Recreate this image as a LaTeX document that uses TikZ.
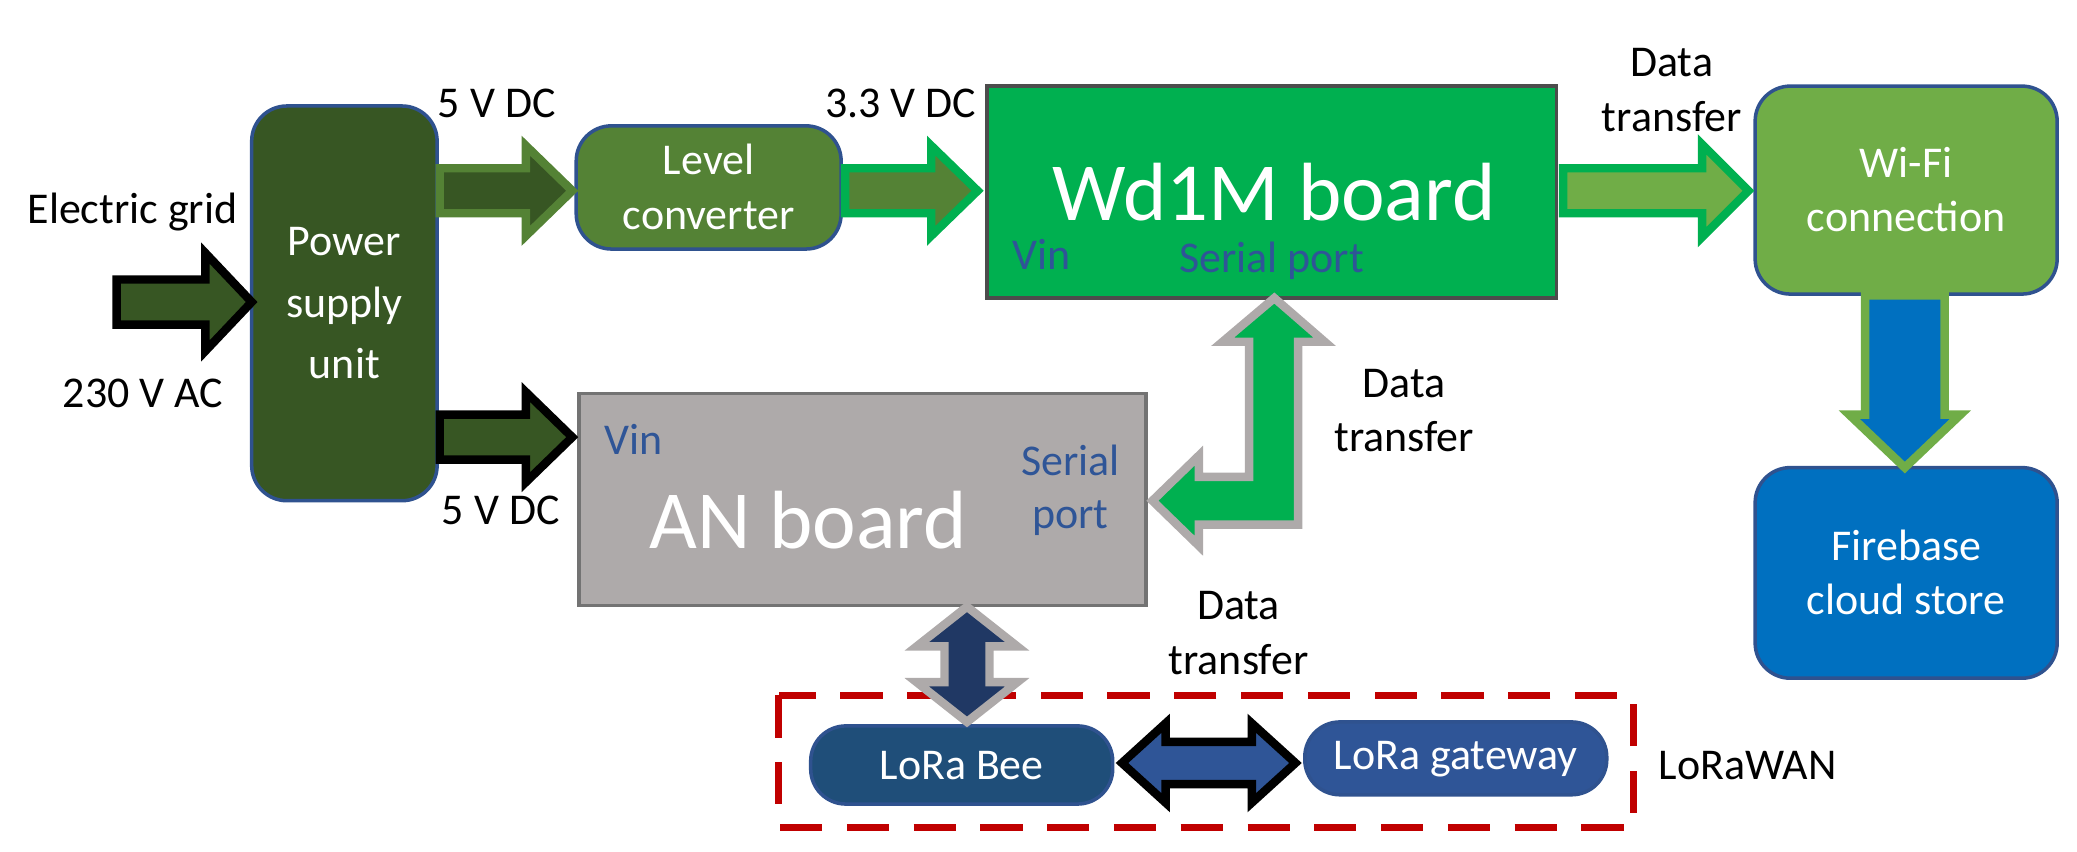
\documentclass[tikz,border=0pt]{standalone}
\usepackage{fontspec}
\setmainfont{Carlito}
\begin{document}
\begin{tikzpicture}[x=0.013246cm,y=-0.013246cm,
 box/.style={draw=boxb,line width=1pt,rounded corners=10pt},
 sq/.style={line width=1pt},
 wt/.style={text=white,align=center,font=\fontsize{12.5}{15.5}\selectfont},
 lbl/.style={font=\fontsize{12.5}{15.5}\selectfont,align=center},
 blu/.style={font=\fontsize{12.5}{15}\selectfont,text=bluet,align=center},
 ar/.style={line width=2.4pt,line join=miter}]
\definecolor{boxb}{HTML}{2F528F}
\definecolor{dkg}{HTML}{375623}
\definecolor{mg}{HTML}{548235}
\definecolor{bg}{HTML}{00B050}
\definecolor{lg}{HTML}{70AD47}
\definecolor{gr}{HTML}{AEAAAA}
\definecolor{bl}{HTML}{0070C0}
\definecolor{nv}{HTML}{1F4E79}
\definecolor{nv2}{HTML}{2F5597}
\definecolor{nv3}{HTML}{203864}
\definecolor{bluet}{HTML}{2F5597}
\definecolor{rd}{HTML}{C00000}
\newcommand{\RArr}[7]{\draw[#1] (#2,#4-#5)--(#3-#7,#4-#5)--(#3-#7,#4-#6)--(#3,#4)--(#3-#7,#4+#6)--(#3-#7,#4+#5)--(#2,#4+#5)--cycle;}
\useasboundingbox (0,0) rectangle (1568,642.5);
% boxes
\draw[box,fill=dkg] (190,80) rectangle (330,378);
\node[wt,font=\fontsize{12.5}{17.5}\selectfont] (psu) at (260,229) {Power\\supply\\unit};
\draw[box,fill=mg] (435,95) rectangle (635,188);
\node[wt] (lc) at (535,141) {Level\\converter};
\draw[sq,fill=bg,draw=black!70] (745,65) rectangle (1175,225);
\node[text=white,font=\fontsize{23.5}{28}\selectfont] (wdt) at (962,145) {Wd1M board};
\node[blu,anchor=west] (wdv) at (755,192) {Vin};
\node[blu] (wds) at (960,197) {Serial port};
\draw[box,fill=lg] (1325,65) rectangle (1553,222);
\node[wt] (wifi) at (1439,143) {Wi-Fi\\connection};
\draw[box,fill=bl] (1325,353) rectangle (1553,512);
\node[wt] (fb) at (1439,432) {Firebase\\cloud store};
\draw[sq,fill=gr,draw=black!55] (437,297) rectangle (865,457);
\node[text=white,font=\fontsize{23.5}{28}\selectfont] (ant) at (610,393) {AN board};
\node[blu,anchor=west] (anv) at (447,332) {Vin};
\node[blu] (ans) at (808,370) {Serial\\port};
\draw[box,fill=nv] (612,548) rectangle (840,607);
\node[wt] (bee) at (726,578) {LoRa Bee};
\draw[box,fill=nv2] (985,545) rectangle (1213,600);
\node[wt] (gw) at (1099,573) {LoRa gateway};
\draw[rd,line width=2pt,dash pattern=on 12pt off 7pt] (588,525) rectangle (1233,625);
\node[lbl,anchor=west] (lw) at (1243,578) {LoRaWAN};
% labels
\node[lbl] (eg) at (100,160) {Electric grid};
\node[lbl] (ac) at (108,297) {230 V AC};
\node[lbl] (v5a) at (375,78) {5 V DC};
\node[lbl] (v33) at (680,78) {3.3 V DC};
\node[lbl] (dt1) at (1262,68) {Data\\transfer};
\node[lbl] (v5b) at (378,385) {5 V DC};
\node[lbl] (dt2) at (1060,310) {Data\\transfer};
\node[lbl] (dt3) at (935,478) {Data\\transfer};
% arrows
\RArr{ar,fill=dkg,draw=black}{88}{190}{228}{17}{37}{35}
\RArr{ar,fill=dkg,draw=mg}{332}{432}{144}{17}{34}{35}
\RArr{ar,fill=mg,draw=bg}{638}{738}{144}{17}{34}{35}
\RArr{ar,fill=lg,draw=bg}{1180}{1320}{144}{17}{35}{35}
\RArr{ar,fill=dkg,draw=black}{332}{432}{330}{17}{34}{35}
\draw[ar,fill=bl,draw=lg] (1408,223)--(1468,223)--(1468,313)--(1480,313)--(1438,353)--(1396,313)--(1408,313)--cycle;
\draw[ar,fill=bg,draw=gr] (962,225)--(1000,258)--(980,258)--(980,396)--(905,396)--(905,412)--(870,378)--(905,344)--(905,360)--(943,360)--(943,258)--(923,258)--cycle;
\draw[ar,fill=nv3,draw=gr] (730,458)--(768,488)--(747,488)--(747,515)--(768,515)--(730,545)--(692,515)--(713,515)--(713,488)--(692,488)--cycle;
\draw[ar,fill=nv2,draw=black] (847,576)--(880,546)--(880,560)--(945,560)--(945,546)--(978,576)--(945,606)--(945,592)--(880,592)--(880,606)--cycle;
\end{tikzpicture}
\end{document}
